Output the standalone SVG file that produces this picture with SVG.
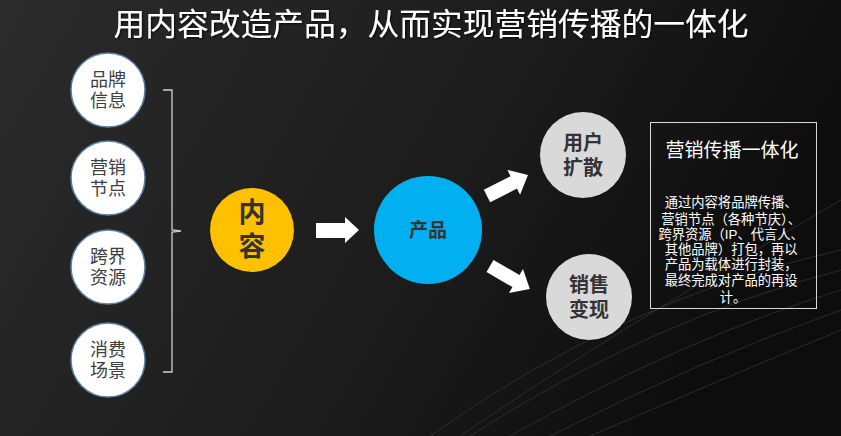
<svg xmlns="http://www.w3.org/2000/svg" width="841" height="436" viewBox="0 0 841 436">
<defs>
<linearGradient id="bg" x1="0" y1="0" x2="1" y2="0.3">
<stop offset="0" stop-color="#2b2b2b"/>
<stop offset="0.6" stop-color="#1c1c1c"/>
<stop offset="1" stop-color="#0d0d0d"/>
</linearGradient>
<filter id="sh" x="-5%" y="-20%" width="110%" height="140%">
<feDropShadow dx="1" dy="1" stdDeviation="0.8" flood-color="#000" flood-opacity="0.8"/>
</filter>
</defs>
<style>
.t{font-family:"Liberation Sans","Noto Sans CJK SC",sans-serif;text-anchor:middle}
.src circle{fill:#fff;stroke:#5c7fa3;stroke-width:1.5}
.src text{fill:#404040;font-size:18px}
.out circle{fill:#d9d9d9}
.out text{fill:#333;font-size:20px;font-weight:bold}
.arr{fill:#fff}
.curve{fill:none;stroke:#2c2c2c;stroke-width:1}
</style>
<rect width="841" height="436" fill="url(#bg)"/>
<g id="bg-lines">
<path class="curve" d="M430 436 Q620 300 841 250"/>
<path class="curve" d="M470 436 Q650 320 841 270"/>
<path class="curve" d="M510 436 Q680 340 841 290"/>
<path class="curve" d="M550 436 Q700 360 841 310"/>
<path class="curve" d="M590 436 Q720 380 841 330"/>
<path class="curve" d="M460 436 Q600 340 841 200"/>
</g>
<text class="t" x="431" y="35" font-size="31" fill="#fff" filter="url(#sh)" textLength="635" lengthAdjust="spacingAndGlyphs">用内容改造产品，从而实现营销传播的一体化</text>

<g id="n-brand" class="src"><circle cx="108" cy="90" r="37"/><text class="t"><tspan x="108" y="86">品牌</tspan><tspan x="108" y="107">信息</tspan></text></g>
<g id="n-node" class="src"><circle cx="108" cy="178" r="37"/><text class="t"><tspan x="108" y="174">营销</tspan><tspan x="108" y="195">节点</tspan></text></g>
<g id="n-res" class="src"><circle cx="108" cy="267" r="37"/><text class="t"><tspan x="108" y="263">跨界</tspan><tspan x="108" y="284">资源</tspan></text></g>
<g id="n-scene" class="src"><circle cx="108" cy="360" r="37"/><text class="t"><tspan x="108" y="356">消费</tspan><tspan x="108" y="377">场景</tspan></text></g>

<g id="connectors">
<path d="M163 90 H172 V230 L181 231 L172 232 V372 H163" fill="none" stroke="#d0d0d0" stroke-width="1.3"/>
<polygon class="arr" points="316,223 345,223 345,217 359,230 345,243 345,238 316,238"/>
<g transform="translate(487,196) rotate(-27)"><polygon class="arr" points="0,-7 30,-7 30,-14 46,0 30,14 30,7 0,7"/></g>
<g transform="translate(490,266) rotate(30)"><polygon class="arr" points="0,-7 30,-7 30,-14 46,0 30,14 30,7 0,7"/></g>
</g>

<g id="n-content"><circle cx="252" cy="230" r="42" fill="#ffc000"/><text class="t" font-size="27" font-weight="bold" fill="#333"><tspan x="252" y="222">内</tspan><tspan x="252" y="256">容</tspan></text></g>
<g id="n-product"><circle cx="428" cy="230" r="54" fill="#00b0f0"/><text class="t" x="428" y="237" font-size="19" font-weight="bold" fill="#333">产品</text></g>
<g id="n-user" class="out"><circle cx="583" cy="155" r="43"/><text class="t"><tspan x="583" y="150">用户</tspan><tspan x="583" y="175">扩散</tspan></text></g>
<g id="n-sales" class="out"><circle cx="589" cy="297" r="43"/><text class="t"><tspan x="589" y="292">销售</tspan><tspan x="589" y="317">变现</tspan></text></g>

<g id="n-box">
<rect x="650.5" y="122.5" width="166" height="186" fill="none" stroke="#d8d8d8" stroke-width="1"/>
<text class="t" x="732" y="157" font-size="19" fill="#fff">营销传播一体化</text>
<text class="t" fill="#fff" font-size="13.3">
<tspan x="733" y="207">通过内容将品牌传播、</tspan>
<tspan x="733" y="224">营销节点（各种节庆）、</tspan>
<tspan x="733" y="239">跨界资源（IP、代言人、</tspan>
<tspan x="733" y="254">其他品牌）打包，再以</tspan>
<tspan x="733" y="269">产品为载体进行封装，</tspan>
<tspan x="733" y="285">最终完成对产品的再设</tspan>
<tspan x="733" y="302">计。</tspan>
</text>
</g>
</svg>
